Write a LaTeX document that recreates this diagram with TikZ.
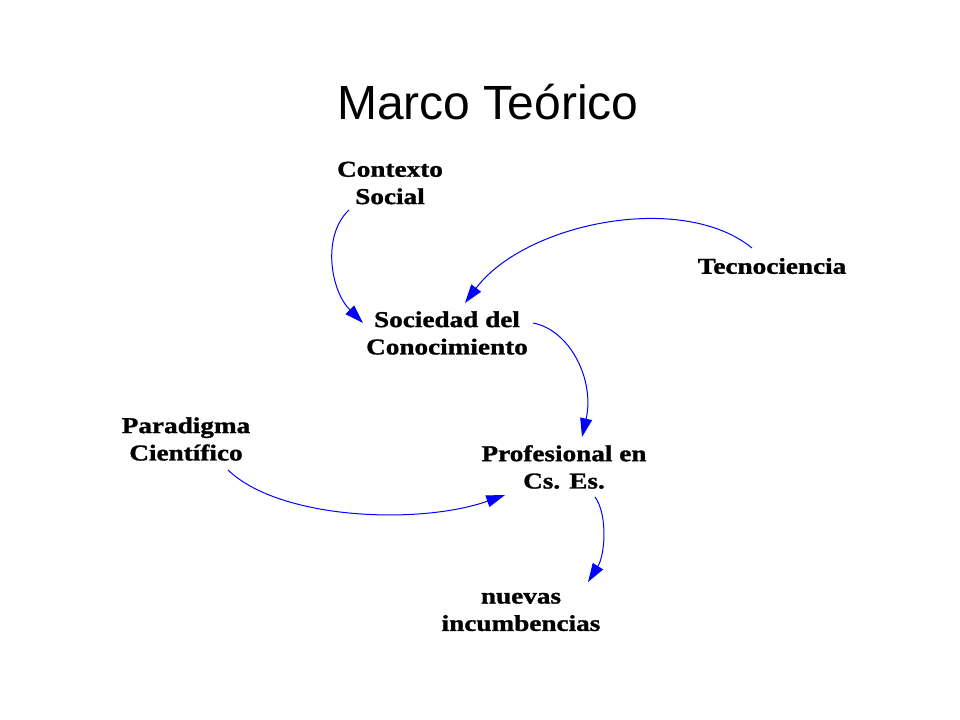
\documentclass[tikz,border=0pt]{standalone}
\usepackage{fontspec}
\usepackage{tikz}
\usetikzlibrary{arrows.meta}
\newfontfamily\titlefont{Liberation Sans}
\newfontfamily\conceptfont[FakeStretch=1.2,FakeBold=1.2]{Liberation Serif}
\definecolor{arcblue}{RGB}{0,0,255}

\begin{document}
\begin{tikzpicture}[x=0.75pt,y=-0.75pt,
		concept/.style={align=center, inner sep=0pt, font=\conceptfont\bfseries\fontsize{17}{20.5}\selectfont},
		link/.style={draw=arcblue, line width=0.75pt, -{Triangle[length=14pt,width=9pt,fill=arcblue]}}]
		\useasboundingbox[fill=white] (0,0) rectangle (960,720);

		\node[anchor=base] (title) at (488,120) {\titlefont\fontsize{36}{40}\selectfont Marco Teórico};

		\node[concept] (ctx) at (390,183) {Contexto\\Social};
		\node[concept] (tec) at (772,266) {Tecnociencia};
		\node[concept] (soc) at (447,333) {Sociedad del\\Conocimiento};
		\node[concept] (par) at (186,439) {Paradigma\\Científico};
		\node[concept] (pro) at (564,467) {Profesional en\\Cs. Es.};
		\node[concept] (nue) at (521,612) {nuevas\\incumbencias};

		\draw[link] ([shift={(-41,27)}]ctx.center) .. controls +(-27,25) and +(-33,-33) .. ([shift={(-84,-10)}]soc.center);
		\draw[link] ([shift={(-20,-18)}]tec.center) .. controls +(-70,-57) and +(60,-80) .. ([shift={(18,-30)}]soc.center);
		\draw[link] ([shift={(86,-10)}]soc.center) .. controls +(37,7) and +(13,-57) .. ([shift={(18,-30)}]pro.center);
		\draw[link] ([shift={(42,31)}]par.center) .. controls +(52,50) and +(-85,30) .. ([shift={(-59,28)}]pro.center);
		\draw[link] ([shift={(31,30)}]pro.center) .. controls +(13,18) and +(17,-27) .. ([shift={(67,-30)}]nue.center);

	\end{tikzpicture}
\end{document}
